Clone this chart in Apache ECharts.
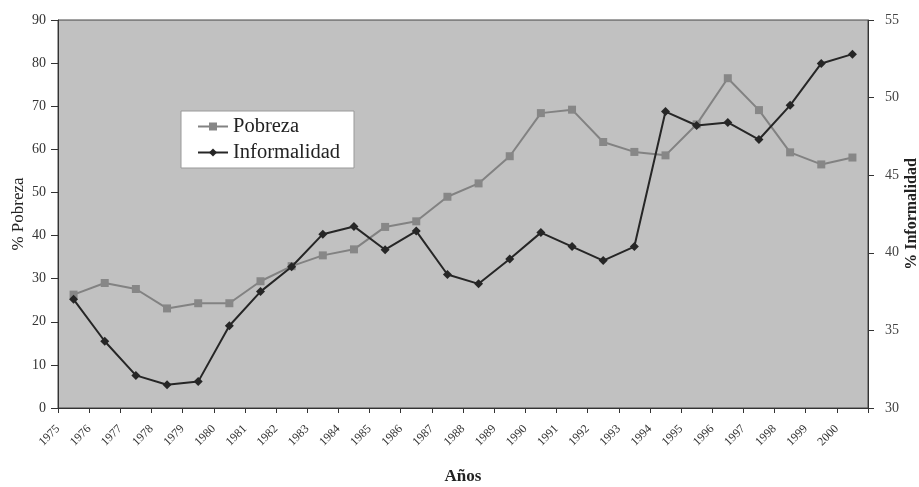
<!DOCTYPE html>
<html>
<head>
<meta charset="utf-8">
<script src="https://cdn.jsdelivr.net/npm/echarts@6/dist/echarts.min.js"></script>
<style>
  html, body { margin: 0; padding: 0; background: #fff; }
  #chart { width: 919px; height: 487px; }
</style>
</head>
<body>
<div id="chart"></div>
<script>
// años 1975 - 2000
const years = ['1975', '1976', '1977', '1978', '1979', '1980', '1981', '1982', '1983',
  '1984', '1985', '1986', '1987', '1988', '1989', '1990', '1991', '1992', '1993',
  '1994', '1995', '1996', '1997', '1998', '1999', '2000'];

// % Pobreza (eje izquierdo)
const pobreza = [26.3, 29.0, 27.6, 23.1, 24.3, 24.3, 29.4, 32.9, 35.4, 36.8, 42.0, 43.3, 49.0,
  52.1, 58.4, 68.4, 69.2, 61.7, 59.4, 58.6, 65.8, 76.5, 69.1, 59.3, 56.5, 58.1];

// % Informalidad (eje derecho)
const informalidad = [37.0, 34.3, 32.1, 31.5, 31.7, 35.3, 37.5, 39.1, 41.2, 41.7, 40.2, 41.4, 38.6,
  38.0, 39.6, 41.3, 40.4, 39.5, 40.4, 49.1, 48.2, 48.4, 47.3, 49.5, 52.2, 52.8];

const serif = 'Liberation Serif';

// labels sit on the tick marks, points sit between them
const toPoints = arr => arr.map((v, i) => [i + 0.5, v]);

const chart = echarts.init(document.getElementById('chart'));
const option = {
  animation: false,
  textStyle: { fontFamily: serif },
  grid: {
    left: 58,
    right: 51,
    top: 20,
    bottom: 79,
    outerBoundsMode: 'none',
    show: true,
    backgroundColor: '#c1c1c1',
    borderColor: '#444',
    borderWidth: 1,
  },
  legend: {
    orient: 'vertical',
    left: 181,
    top: 111,
    padding: [5, 14, 5, 16],
    itemGap: 5,
    itemWidth: 30,
    itemHeight: 10,
    backgroundColor: '#fff',
    borderColor: '#999',
    borderWidth: 1,
    textStyle: { fontFamily: serif, fontSize: 20.5, color: '#222' },
    data: ['Pobreza', 'Informalidad'],
  },
  xAxis: {
    type: 'value',
    min: 0,
    max: years.length,
    interval: 1,
    name: 'Años',
    nameLocation: 'middle',
    nameGap: 60,
    nameMoveOverlap: false,
    nameTextStyle: { fontFamily: serif, fontSize: 17, fontWeight: 'bold', color: '#222' },
    splitLine: { show: false },
    axisLine: { onZero: false, lineStyle: { color: '#333', width: 1 } },
    axisTick: { show: true, length: 5, lineStyle: { color: '#333' } },
    axisLabel: {
      rotate: 45,
      margin: 19,
      fontSize: 12,
      color: '#333',
      formatter: v => (v < years.length ? years[v] : ''),
    },
  },
  yAxis: [
    {
      type: 'value',
      min: 0,
      max: 90,
      interval: 10,
      name: '% Pobreza',
      nameLocation: 'middle',
      nameGap: 31,
      nameMoveOverlap: false,
      nameTextStyle: { fontFamily: serif, fontSize: 17, color: '#222' },
      splitLine: { show: false },
      axisLine: { show: true, lineStyle: { color: '#333' } },
      axisTick: { show: true, length: 7, lineStyle: { color: '#333' } },
      axisLabel: { fontSize: 14, color: '#333', margin: 12 },
    },
    {
      type: 'value',
      min: 30,
      max: 55,
      interval: 5,
      position: 'right',
      name: '% Informalidad',
      nameLocation: 'middle',
      nameGap: 36,
      nameMoveOverlap: false,
      nameRotate: 90,
      nameTextStyle: { fontFamily: serif, fontSize: 16, fontWeight: 'bold', color: '#222' },
      splitLine: { show: false },
      axisLine: { show: true, lineStyle: { color: '#333' } },
      axisTick: { show: true, length: 6, lineStyle: { color: '#333' } },
      axisLabel: { fontSize: 14, color: '#444', margin: 17 },
    },
  ],
  series: [
    {
      name: 'Pobreza',
      type: 'line',
      yAxisIndex: 0,
      data: toPoints(pobreza),
      symbol: 'rect',
      symbolSize: 8,
      lineStyle: { color: '#828282', width: 2 },
      itemStyle: { color: '#878787' },
      z: 2,
    },
    {
      name: 'Informalidad',
      type: 'line',
      yAxisIndex: 1,
      data: toPoints(informalidad),
      symbol: 'diamond',
      symbolSize: 9,
      lineStyle: { color: '#262626', width: 2 },
      itemStyle: { color: '#262626' },
      z: 3,
    },
  ],
};
chart.setOption(option);
</script>
</body>
</html>
